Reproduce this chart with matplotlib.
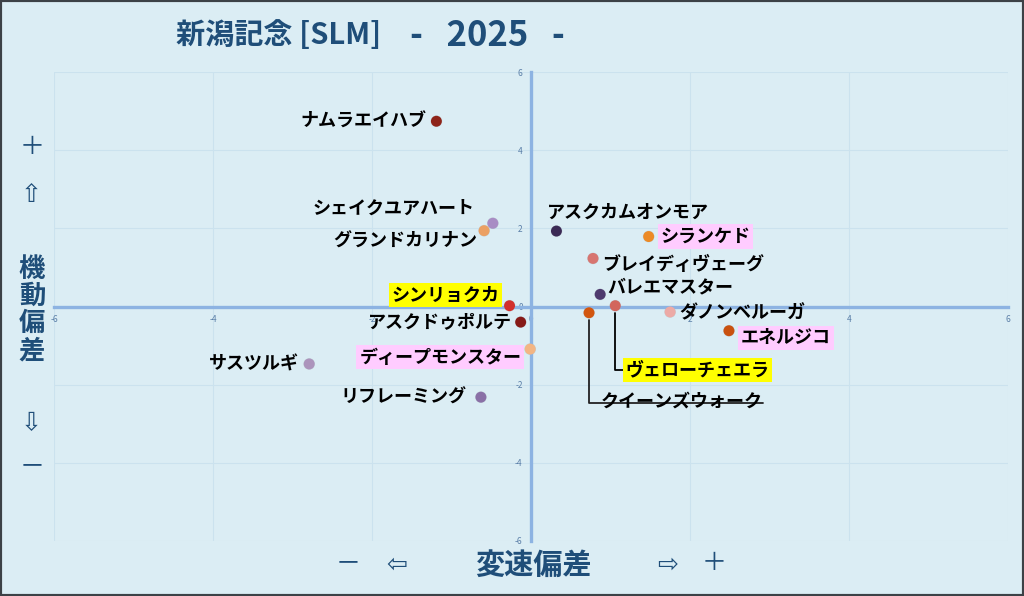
import matplotlib
matplotlib.use("Agg")
import matplotlib.pyplot as plt
from matplotlib.patches import Rectangle

plt.rcParams['font.family'] = ['Noto Sans CJK JP', 'DejaVu Sans']

# data
horses = ["ナムラエイハブ", "シェイクユアハート", "グランドカリナン", "アスクカムオンモア",
          "シランケド", "ブレイディヴェーグ", "バレエマスター", "ヴェローチェエラ",
          "クイーンズウォーク", "ダノンベルーガ", "エネルジコ", "シンリョクカ",
          "アスクドゥポルテ", "ディープモンスター", "サスツルギ", "リフレーミング"]
speed_dev = [-1.19, -0.48, -0.59, 0.32, 1.48, 0.78, 0.87, 1.06,
             0.73, 1.75, 2.49, -0.27, -0.13, -0.01, -2.79, -0.63]
mobility_dev = [4.74, 2.13, 1.94, 1.93, 1.79, 1.23, 0.31, 0.02,
                -0.16, -0.14, -0.62, 0.02, -0.40, -1.09, -1.47, -2.32]
dot_colors = ["#8e2419", "#a88cc4", "#eba063", "#3b2a55", "#ec8a26", "#d77570",
              "#4e3a6e", "#d2665d", "#d2560f", "#ecaaa6", "#c9510f", "#d2302c",
              "#861a17", "#f3b583", "#ac94bc", "#8a70a6"]
highlight = {"シランケド": "#ffccff", "エネルジコ": "#ffccff", "ディープモンスター": "#ffccff",
             "シンリョクカ": "#ffff00", "ヴェローチェエラ": "#ffff00"}
ticks = [-6, -4, -2, 0, 2, 4, 6]

# label offsets in pixels (dx, dy, ha)
offsets = {"ナムラエイハブ": (-10, 0, "right"), "シェイクユアハート": (-18, 15, "right"),
           "グランドカリナン": (-7, -10, "right"), "アスクカムオンモア": (-9, 19, "left"),
           "シランケド": (12, 0, "left"), "ブレイディヴェーグ": (9, -6, "left"),
           "バレエマスター": (7, 7, "left"), "ヴェローチェエラ": (10, -64, "left"),
           "クイーンズウォーク": (12, -88, "left"), "ダノンベルーガ": (9, -1, "left"),
           "エネルジコ": (12, -7, "left"), "シンリョクカ": (-10, 11, "right"),
           "アスクドゥポルテ": (-9, 0, "right"), "ディープモンスター": (-9, -8, "right"),
           "サスツルギ": (-10, 0, "right"), "リフレーミング": (-14, 0, "right")}

bg = "#dbedf4"
navy = "#1f4e79"
axis_blue = "#8db3e2"

fig = plt.figure(figsize=(10.24, 5.96), dpi=100, facecolor=bg)
ax = fig.add_axes([54 / 1024, 55 / 596, 954 / 1024, 469 / 596])
ax.set_facecolor(bg)
ax.set_xlim(-6, 6)
ax.set_ylim(-6, 6)
ax.set_xticks(ticks)
ax.set_yticks(ticks)
ax.grid(True, color="#cbe2ee", linewidth=0.8)
ax.set_axisbelow(True)

for s in ["top", "right"]:
    ax.spines[s].set_visible(False)
for s in ["left", "bottom"]:
    ax.spines[s].set_position("zero")
    ax.spines[s].set_color(axis_blue)
    ax.spines[s].set_linewidth(2.4)
ax.tick_params(length=0, labelsize=6, labelcolor="#5b7fa8", pad=6)
ax.set_xticklabels([str(t) for t in ticks])
ax.set_yticklabels([str(t) for t in ticks])

# faint shadow under the dots, then the dots
ax.scatter(speed_dev, mobility_dev, s=70, c="#9aa6ad", alpha=0.35, zorder=2,
           edgecolors="none")
ax.scatter(speed_dev, mobility_dev, s=62, c=dot_colors, zorder=3,
           edgecolors="none")

for name, x, y in zip(horses, speed_dev, mobility_dev):
    dx, dy, ha = offsets[name]
    kw = dict(xy=(x, y), xytext=(dx, dy), textcoords="offset pixels",
              ha=ha, va="center", fontsize=13, fontweight="bold",
              color="black", zorder=4)
    if name in highlight:
        kw["bbox"] = dict(boxstyle="square,pad=0.15", fc=highlight[name], ec="none")
    if name == "ヴェローチェエラ":
        kw["arrowprops"] = dict(arrowstyle="-", color="black", lw=1.3,
                                connectionstyle="angle,angleA=0,angleB=90,rad=0",
                                relpos=(0, 0.5), shrinkA=0, shrinkB=5)
    if name == "クイーンズウォーク":
        kw["arrowprops"] = dict(arrowstyle="-", color="#222222", lw=1.3,
                                connectionstyle="angle,angleA=0,angleB=90,rad=0",
                                relpos=(1, 0.38), shrinkA=0, shrinkB=5, patchA=None)
    ax.annotate(name, **kw)

# title
fig.text(176 / 1024, 1 - 35 / 596, "新潟記念 [SLM]", ha="left", va="center",
         fontsize=21, fontweight="bold", color=navy)
fig.text(487 / 1024, 1 - 35 / 596, "-   2025   -", ha="center", va="center",
         fontsize=25, fontweight="bold", color=navy)

# y axis label
fig.text(32 / 1024, 1 - 147 / 596, "＋", ha="center", va="center", fontsize=18,
         color=navy)
fig.text(31 / 1024, 1 - 195 / 596, "⇧", ha="center", va="center", fontsize=18,
         color=navy, family=["DejaVu Sans"])
fig.text(32 / 1024, 1 - 310 / 596, "機\n動\n偏\n差", ha="center", va="center",
         fontsize=19, fontweight="bold", color=navy, linespacing=1.0)
fig.text(31 / 1024, 1 - 423 / 596, "⇩", ha="center", va="center", fontsize=18,
         color=navy, family=["DejaVu Sans"])
fig.text(32 / 1024, 1 - 466 / 596, "－", ha="center", va="center", fontsize=18,
         color=navy)

# x axis label
fig.text(348 / 1024, 1 - 563 / 596, "－", ha="center", va="center", fontsize=18,
         color=navy)
fig.text(397 / 1024, 1 - 565 / 596, "⇦", ha="center", va="center", fontsize=18,
         color=navy, family=["DejaVu Sans"])
fig.text(533 / 1024, 1 - 565 / 596, "変速偏差", ha="center", va="center",
         fontsize=21, fontweight="bold", color=navy)
fig.text(668 / 1024, 1 - 565 / 596, "⇨", ha="center", va="center", fontsize=18,
         color=navy, family=["DejaVu Sans"])
fig.text(714 / 1024, 1 - 563 / 596, "＋", ha="center", va="center", fontsize=18,
         color=navy)

# outer border
fig.patches.append(Rectangle((0, 0), 1, 1, transform=fig.transFigure, fill=False,
                             edgecolor="#3c4146", linewidth=3))

fig.savefig("out.png", dpi=100, facecolor=bg)
